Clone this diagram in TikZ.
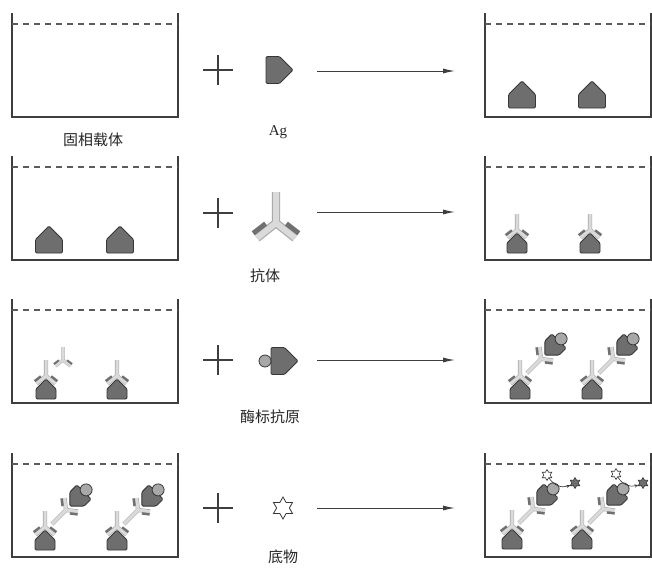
\documentclass[tikz,border=0pt]{standalone}
\usepackage{fontspec}
\setmainfont{Liberation Serif}
\newfontfamily\cjk{Noto Sans CJK SC}
\usetikzlibrary{arrows.meta,shapes.geometric}
\definecolor{wallgray}{RGB}{62,62,62}
\definecolor{agfill}{RGB}{110,110,110}
\definecolor{agdraw}{RGB}{55,55,55}
\definecolor{abedge}{RGB}{170,170,170}
\definecolor{abfill}{RGB}{218,218,218}
\definecolor{lchain}{RGB}{112,112,112}
\definecolor{enzfill}{RGB}{168,168,168}

\tikzset{
  well/.style={wallgray, line width=1.6pt},
  level/.style={wallgray!85, line width=1.1pt, dash pattern=on 6pt off 5pt},
  cross/.style={wallgray, line width=1.5pt},
  react/.style={wallgray, line width=1pt, -{Latex[length=12pt,width=5pt]}},
  nametext/.style={font=\cjk\fontsize{15}{18}\selectfont, text=black!85},
  bigstar/.style={star, star points=6, star point ratio=1.73, minimum size=22pt,
    inner sep=0pt, draw=agdraw, line width=0.8pt, fill=white},
  smallstar/.style={bigstar, minimum size=11pt, line width=0.6pt},
  % open well with liquid level
  pics/well/.style={code={
    \draw[well] (0,0) -- (0,104) -- (166,104) -- (166,0);
    \draw[level] (0,11) -- (166,11);
  }},
  % antigen, origin at the middle of its flat side
  pics/antigen/.style={code={
    \filldraw[fill=agfill, draw=agdraw, line width=0.9pt, rounded corners=1.2pt, scale=#1]
      (-10,0) -- (10,0) -- (10,-10) -- (0,-20) -- (-10,-10) -- cycle;
  }},
  % antibody: #1 size, #2 stem length; origin at the hinge
  pics/antibody/.style 2 args={code={
    \begin{scope}[scale=#1]
      \draw[abedge, line width=#1*0.6pt, double=abfill, double distance=#1*3pt]
        (0,-#2) -- (0,0) (-9.5,7.5) -- (0,0) -- (9.5,7.5);
      \draw[lchain, line width=#1*2.4pt]
        (-5.2,0.3) -- (-11.4,5.1) (5.2,0.3) -- (11.4,5.1);
    \end{scope}
  }},
  % enzyme labelled antigen: #1 size, #2 offset of the enzyme
  pics/labeled/.style 2 args={code={
    \pic[transform shape] {antigen=#1};
    \filldraw[fill=enzfill, draw=agdraw, line width=0.8pt] (0,#2) circle (6);
  }},
  pics/boundab/.style={code={
    \pic[transform shape] at (0,0) {antigen=1};
    \pic[transform shape] at (0,-23) {antibody={1}{16}};
  }},
  pics/sandwich/.style={code={
    \pic[transform shape] at (0,0) {boundab};
    \pic[transform shape, rotate=135] at (21,-40) {antibody={1}{20}};
    \pic[transform shape, rotate=135] at (39,-58) {labeled={1}{3}};
  }},
}

\begin{document}
\begin{tikzpicture}[x=1pt, y=-1pt]
  \useasboundingbox (0,0) rectangle (652,570);

  % wells
  \foreach \y in {13,156,299,453}{
    \pic at (12,\y) {well};
    \pic at (485,\y) {well};
  }

  % plus signs and reaction arrows
  \foreach \y in {70,213,360,508}
    \draw[cross] (203,\y) -- (233,\y) (218,\y-15) -- (218,\y+15);
  \foreach \y/\n in {71/1,212/2,360/3,508/4}{
    \coordinate (from\n) at (317,\y);
    \coordinate (to\n) at (455,\y);
    \draw[react] (from\n) -- (to\n);
  }

  % row 1: coating
  \pic[rotate=-90] at (266,70) {antigen=1.35};
  \pic at (522,108) {antigen=1.35};
  \pic at (592,108) {antigen=1.35};
  \node[nametext] (carrier) at (93,140) {固相载体};
  \node[font=\fontsize{15}{18}\selectfont, text=black!85] (ag) at (278,132) {Ag};

  % row 2: antibody
  \pic at (49,253) {antigen=1.35};
  \pic at (120,253) {antigen=1.35};
  \pic at (276,223) {antibody={2}{15.5}};
  \pic at (517,253) {boundab};
  \pic at (590,253) {boundab};
  \node[nametext] (antibody) at (265,276) {抗体};

  % row 3: enzyme labelled antigen
  \pic at (46,399) {boundab};
  \pic at (117,399) {boundab};
  \pic at (63,360) {antibody={0.8}{16}};
  \pic[rotate=-90] at (271,361) {labeled={1.35}{6}};
  \pic at (520,399) {sandwich};
  \pic at (592,399) {sandwich};
  \node[nametext] (conjugate) at (270,417) {酶标抗原};

  % row 4: substrate
  \pic at (45,550) {sandwich};
  \pic at (117,550) {sandwich};
  \node[bigstar] (substrate) at (283,508) {};
  \pic at (512,549) {sandwich};
  \pic at (582,549) {sandwich};
  \node[smallstar] (sub1) at (547,475) {};
  \node[smallstar, fill=agfill] (prod1) at (575,483) {};
  \node[smallstar] (sub2) at (616,474) {};
  \node[smallstar, fill=agfill] (prod2) at (643,483) {};
  \draw[agdraw, line width=0.6pt, -{Stealth[length=4pt]}] (sub1) to[bend right=40] (prod1);
  \draw[agdraw, line width=0.6pt, -{Stealth[length=4pt]}] (sub2) to[bend right=40] (prod2);
  \node[nametext] (substratetext) at (283,557) {底物};
\end{tikzpicture}
\end{document}
